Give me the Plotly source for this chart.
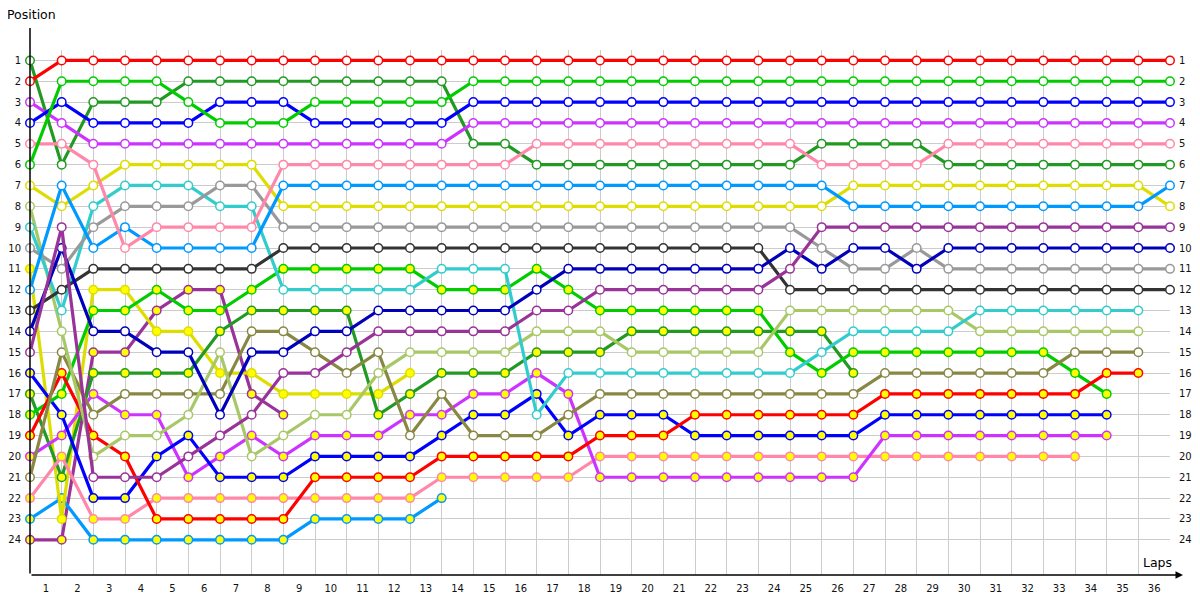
import plotly.graph_objects as go

# ---------------- data ----------------
lap_labels = list(range(1, 37))
position_labels = list(range(1, 25))

red_a = [2] + [1] * 36
green_a = [6, 2, 2, 2, 2, 3, 4, 4, 4, 3, 3, 3, 3, 3] + [2] * 23
blue_a = [4, 3, 4, 4, 4, 4, 3, 3, 3, 4, 4, 4, 4, 4] + [3] * 23
violet_a = [3, 4] + [5] * 12 + [4] * 23
pink_a = [5, 5, 6, 10, 9, 9, 9, 9] + [6] * 8 + [5] * 9 + [6] * 4 + [5] * 8
dkgreen_a = [1, 6, 3, 3, 3] + [2] * 9 + [5, 5] + [6] * 9 + [5] * 4 + [6] * 8
ltblue_a = [12, 7, 10, 9, 10, 10, 10, 10] + [7] * 18 + [8] * 10 + [7]
yellow_a = [7, 8, 7, 6, 6, 6, 6, 6] + [8] * 18 + [7] * 10 + [8]
dkpurple_a = [15, 9, 21, 21, 21, 20, 19, 18, 16, 16, 15, 14, 14, 14, 14, 14, 13, 13] + [12] * 6 + [11] + [9] * 12
navy_a = [14, 10, 14, 14, 15, 15, 18, 15, 15, 14, 14, 13, 13, 13, 13, 13, 12] + [11] * 7 + [10, 11, 10, 10, 11] + [10] * 8
gray_a = [10, 11, 9, 8, 8, 8, 7, 7] + [9] * 17 + [10, 11, 11, 10] + [11] * 8
black_a = [13, 12] + [11] * 6 + [10] * 16 + [12] * 13
cyan_a = [9, 13, 8, 7, 7, 7, 8, 8] + [12] * 5 + [11] * 3 + [18] + [16] * 8 + [15] + [14] * 4 + [13] * 6
ltolive_a = [8, 14, 20, 19, 19, 18, 15, 20, 19, 18, 18, 16] + [15] * 4 + [14] * 3 + [15] * 5 + [13] * 6 + [14] * 6
olive_a = [21, 15, 18, 17, 17, 17, 17, 14, 14, 15, 16, 15, 19, 17, 19, 19, 19, 18] + [17] * 9 + [16] * 6 + [15] * 3
red_b = [19, 16, 19, 20, 23, 23, 23, 23, 23, 21, 21, 21, 21, 20, 20, 20, 20, 20, 19, 19, 19,
         18, 18, 18, 18, 18, 18, 17, 17, 17, 17, 17, 17, 17, 16, 16]
green_b = [18, 17, 13, 13, 12, 13, 13, 12, 11, 11, 11, 11, 11, 12, 12, 12, 11, 12, 13, 13, 13,
           13, 13, 13, 15, 16, 15, 15, 15, 15, 15, 15, 15, 16, 17]
blue_b = [16, 18, 22, 22, 20, 19, 21, 21, 21, 20, 20, 20, 20, 19, 18, 18, 17, 19, 18, 18, 18,
          19, 19, 19, 19, 19, 19, 18, 18, 18, 18, 18, 18, 18, 18]
violet_b = [20, 19, 17, 18, 18, 21, 20, 19, 20, 19, 19, 19, 18, 18, 17, 17, 16, 17, 21, 21, 21,
            21, 21, 21, 21, 21, 21, 19, 19, 19, 19, 19, 19, 19, 19]
pink_b = [22, 20, 23, 23] + [22] * 9 + [21] * 5 + [20] * 16
dkgreen_b = [17, 21, 16, 16, 16, 16, 14, 13, 13, 13, 13, 18, 17, 16, 16, 16, 15, 15, 15,
             14, 14, 14, 14, 14, 14, 14, 16]
yellow_b = [11, 23, 12, 12, 14, 14, 16, 16, 17, 17, 17, 17, 16]
ltblue_b = [23, 22, 24, 24, 24, 24, 24, 24, 24, 23, 23, 23, 23, 22]
dkpurple_b = [24, 24, 15, 15, 13, 12, 12, 17, 18]

# (positions, line colour, marker fill)
series = [
    (dkpurple_b, "#993399", "#ffff00"),
    (ltblue_b, "#0099ff", "#ffff00"),
    (yellow_b, "#dddd00", "#ffff00"),
    (dkgreen_b, "#229922", "#ffff00"),
    (pink_b, "#ff88aa", "#ffff00"),
    (violet_b, "#cc33ff", "#ffff00"),
    (blue_b, "#0000ff", "#ffff00"),
    (green_b, "#00cc00", "#ffff00"),
    (red_b, "#ff0000", "#ffff00"),
    (olive_a, "#888844", "#ffffff"),
    (ltolive_a, "#a8c868", "#ffffff"),
    (cyan_a, "#33cccc", "#ffffff"),
    (black_a, "#333333", "#ffffff"),
    (gray_a, "#999999", "#ffffff"),
    (navy_a, "#0000bb", "#ffffff"),
    (dkpurple_a, "#993399", "#ffffff"),
    (yellow_a, "#dddd00", "#ffffff"),
    (ltblue_a, "#0099ff", "#ffffff"),
    (dkgreen_a, "#229922", "#ffffff"),
    (pink_a, "#ff88aa", "#ffffff"),
    (violet_a, "#cc33ff", "#ffffff"),
    (blue_a, "#0000ff", "#ffffff"),
    (green_a, "#00cc00", "#ffffff"),
    (red_a, "#ff0000", "#ffffff"),
]

fig = go.Figure()
for pos, col, fill in series:
    fig.add_trace(go.Scatter(
        x=list(range(len(pos))), y=pos, mode="lines+markers",
        line=dict(color=col, width=3.2),
        marker=dict(symbol="circle", size=8.5, color=fill, line=dict(color=col, width=1.5)),
        cliponaxis=False, showlegend=False, hoverinfo="skip",
    ))

# invisible trace so the right position axis is drawn
fig.add_trace(go.Scatter(x=[None], y=[None], yaxis="y2", showlegend=False, hoverinfo="skip"))

font = "DejaVu Sans"
fig.update_layout(
    width=1192, height=592,
    margin=dict(l=22, r=30, t=42, b=25, autoexpand=False),
    plot_bgcolor="white", paper_bgcolor="white",
    font=dict(family=font, size=10, color="#111111"),
    xaxis=dict(
        range=[0, 36], showline=False, zeroline=False, showgrid=False, automargin=False,
        tickvals=[v - 0.5 for v in lap_labels], ticktext=[str(v) for v in lap_labels],
        ticks="outside", ticklen=4, tickcolor="rgba(0,0,0,0)",
        minor=dict(tickvals=lap_labels, showgrid=True, gridcolor="#cccccc", gridwidth=1, ticks=""),
        fixedrange=True,
    ),
    yaxis=dict(
        range=[25.69, 0.5], showline=False, zeroline=False, showgrid=True, automargin=False,
        gridcolor="#cccccc", gridwidth=1,
        tickvals=position_labels, ticktext=[str(v) for v in position_labels],
        ticks="outside", ticklen=6, tickcolor="rgba(0,0,0,0)",
    ),
    yaxis2=dict(
        range=[25.69, 0.5], overlaying="y", side="right", showgrid=False, zeroline=False,
        automargin=False, showline=False,
        tickvals=position_labels, ticktext=[str(v) for v in position_labels],
        ticks="outside", ticklen=6, tickcolor="rgba(0,0,0,0)",
    ),
    annotations=[
        # x axis with arrow
        dict(x=1.0114, y=0, xref="paper", yref="paper", ax=-1153, ay=0, text="",
             showarrow=True, arrowhead=2, arrowsize=1, arrowwidth=1.5, arrowcolor="#000000"),
        # y axis
        dict(x=0, y=1.042, xref="paper", yref="paper", ax=0, ay=547, text="",
             showarrow=True, arrowhead=0, arrowwidth=1.5, arrowcolor="#000000"),
        dict(x=-0.0219, y=1.0667, xref="paper", yref="paper", text="Position", showarrow=False,
             xanchor="left", yanchor="middle", font=dict(family=font, size=12.5, color="#000000")),
        dict(x=1.0035, y=0.0229, xref="paper", yref="paper", text="Laps", showarrow=False,
             xanchor="right", yanchor="middle", font=dict(family=font, size=12.5, color="#000000")),
    ],
)

fig.write_html("out.html")
